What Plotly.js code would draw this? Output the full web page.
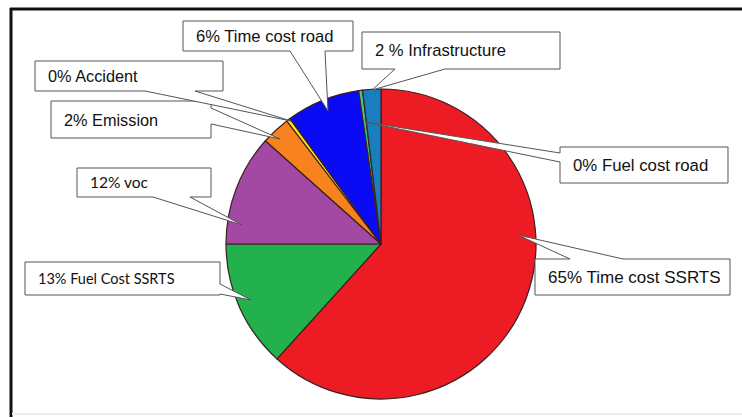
<!DOCTYPE html>
<html>
<head>
<meta charset="utf-8">
<script src="https://cdn.plot.ly/plotly-3.0.1.min.js"></script>
<style>html,body{margin:0;padding:0;background:#fff;}#chart{width:742px;height:417px;}</style>
</head>
<body>
<div id="chart"></div>
<script>
// Data (clockwise from 12 o'clock)
const categories = ["Time cost SSRTS", "Fuel Cost SSRTS", "voc", "Emission", "Accident", "Time cost road", "Fuel cost road", "Infrastructure"];
const shares = [61.7, 13.3, 11.6, 3.0, 0.4, 7.7, 0.4, 1.9];
const sliceColors = ["#ED1C24", "#22B14C", "#A349A4", "#F7821E", "#FFE81A", "#0A0AF5", "#3CC88C", "#1A7DBE"];
const calloutLabels = ["65% Time cost SSRTS", "13% Fuel Cost SSRTS", "12% voc", "2% Emission", "0% Accident", "6% Time cost road", "0% Fuel cost road", "2 % Infrastructure"];

const W = 742, H = 417;
const fx = p => p / W;
const fy = p => 1 - p / H;

// Callout geometry in pixels: box [x0,y0,x1,y1], side where the pointer leaves, base points, tip
const callouts = [
  {box:[535,259,730,295], side:'top',    base:[623,570], tip:[518,235], font:'Liberation Sans', size:17},
  {box:[25,262,220,295],  side:'right',  base:[284,294], tip:[251,300], font:'Lato', size:14.5},
  {box:[77,168,211,197],  side:'bottom', base:[153,190], tip:[242,225], font:'Lato', size:15.5},
  {box:[51,101,211,138],  side:'right',  base:[108,124], tip:[280,139], font:'Liberation Sans', size:16.3},
  {box:[35,61,223,91],    side:'bottom', base:[145,195], tip:[291,121], font:'Liberation Sans', size:16.3},
  {box:[183,21,353,51],   side:'bottom', base:[290,325], tip:[328,111], font:'Liberation Sans', size:16.6},
  {box:[560,147,728,183], side:'left',   base:[162,153], tip:[365,122], font:'Liberation Sans', size:16.8},
  {box:[362,32,560,69],   side:'bottom', base:[395,445], tip:[372,90], font:'Liberation Sans', size:16.6}
];

function calloutPath(c) {
  const [x0,y0,x1,y1] = c.box;
  const [b0,b1] = c.base;
  const [tx,ty] = c.tip;
  const a = Math.min(b0,b1), b = Math.max(b0,b1);
  let pts = [];
  if (c.side === 'bottom') {
    pts = [[x0,y0],[x1,y0],[x1,y1],[b,y1],[tx,ty],[a,y1],[x0,y1]];
  } else if (c.side === 'top') {
    pts = [[x0,y0],[a,y0],[tx,ty],[b,y0],[x1,y0],[x1,y1],[x0,y1]];
  } else if (c.side === 'right') {
    pts = [[x0,y0],[x1,y0],[x1,a],[tx,ty],[x1,b],[x1,y1],[x0,y1]];
  } else {
    pts = [[x0,y0],[x1,y0],[x1,y1],[x0,y1],[x0,b],[tx,ty],[x0,a]];
  }
  return 'M ' + pts.map(p => fx(p[0]).toFixed(5) + ',' + fy(p[1]).toFixed(5)).join(' L ') + ' Z';
}

const shapes = [
  // frame
  {type:'line', xref:'paper', yref:'paper', x0:fx(11), x1:fx(11), y0:fy(8), y1:fy(417), line:{color:'#111', width:3}},
  {type:'line', xref:'paper', yref:'paper', x0:fx(10), x1:fx(742), y0:fy(9), y1:fy(9), line:{color:'#111', width:3}},
  {type:'line', xref:'paper', yref:'paper', x0:fx(12), x1:fx(742), y0:fy(414), y1:fy(414), line:{color:'#eeeeee', width:2}}
];
const annotations = [];
callouts.forEach((c, i) => {
  shapes.push({type:'path', xref:'paper', yref:'paper', layer:'above', path:calloutPath(c),
    fillcolor:'#ffffff', line:{color:'#555555', width:1}});
  annotations.push({xref:'paper', yref:'paper', x:fx(c.box[0] + 11), y:fy((c.box[1] + c.box[3]) / 2),
    xanchor:'left', yanchor:'middle', showarrow:false, text:calloutLabels[i],
    font:{family:c.font, size:c.size, color:'#111'}});
});

const trace = {
  type:'pie',
  labels:categories,
  values:shares,
  sort:false,
  direction:'clockwise',
  rotation:0,
  textinfo:'none',
  hoverinfo:'label+percent',
  marker:{colors:sliceColors, line:{color:'#3a2020', width:1.2}},
  domain:{x:[fx(226), fx(536)], y:[fy(399), fy(89)]},
  showlegend:false
};

const layout = {
  width:W, height:H,
  margin:{l:0, r:0, t:0, b:0},
  paper_bgcolor:'#ffffff',
  plot_bgcolor:'#ffffff',
  showlegend:false,
  shapes:shapes,
  annotations:annotations
};

Plotly.newPlot('chart', [trace], layout, {displayModeBar:false, staticPlot:true});
</script>
</body>
</html>
